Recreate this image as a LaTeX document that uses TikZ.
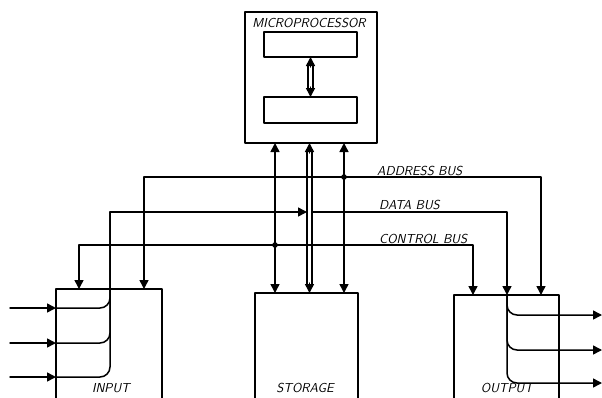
\documentclass[tikz,border=0pt]{standalone}
\usetikzlibrary{arrows.meta}

\begin{document}
\begin{tikzpicture}[line cap=round,line join=round,x=1pt,y=-1pt,
    bus/.style={line width=1.5pt},
    tip/.style={bus,-{Triangle[length=9pt,width=9pt]}},
    tips/.style={bus,{Triangle[length=9pt,width=9pt]}-{Triangle[length=9pt,width=9pt]}},
    box/.style={draw,line width=1.8pt,inner sep=0pt,outer sep=0pt,anchor=north west},
    lbl/.style={font=\fontsize{13}{15}\selectfont\sffamily\itshape,inner sep=1pt}]
  \useasboundingbox (0,0) rectangle (602,397);
  \clip (0,0) rectangle (602,397);

  % Blocks
  \node[box,minimum width=132,minimum height=131] (mp) at (245,12) {};
  \node[box,line width=1.4pt,minimum width=93,minimum height=25] (reg1) at (264,32) {};
  \node[box,line width=1.4pt,minimum width=93,minimum height=26] (reg2) at (264,97) {};
  \node[box,minimum width=106,minimum height=130] (input) at (56,289) {};
  \node[box,minimum width=103,minimum height=130] (storage) at (255,293) {};
  \node[box,minimum width=105,minimum height=130] (output) at (454,295) {};
  \node[lbl] (mplbl) at (309,23) {MICROPROCESSOR};
  \node[lbl] (inlbl) at (111,388) {INPUT};
  \node[lbl] (stlbl) at (305,388) {STORAGE};
  \node[lbl] (outlbl) at (507,388) {OUTPUT};

  % Internal path
  \draw[bus] ([xshift=-2.5pt,yshift=-7pt]reg1.south) -- ([xshift=-2.5pt,yshift=7pt]reg2.north);
  \draw[bus] ([xshift=2.5pt,yshift=-7pt]reg1.south) -- ([xshift=2.5pt,yshift=7pt]reg2.north);
  \draw[tip] ([yshift=-10pt]reg1.south) -- (reg1.south);
  \draw[tip] ([yshift=10pt]reg2.north) -- (reg2.north);

  % Bus points
  \coordinate (aa) at (344,177);
  \coordinate (db) at (309.5,212);
  \coordinate (ca) at (275,245);
  \coordinate (al) at (144,177);
  \coordinate (ar) at (541,177);
  \coordinate (dl) at (110,212);
  \coordinate (dr) at (507,212);
  \coordinate (cl) at (79,245);
  \coordinate (cr) at (473,245);

  % Vertical buses
  \draw[tips] (mp.south -| ca) -- (storage.north -| ca);
  \draw[tips] (mp.south -| aa) -- (storage.north -| aa);
  \draw[bus] ([xshift=-2.5pt,yshift=-7pt]mp.south -| db) -- ([xshift=-2.5pt,yshift=7pt]storage.north -| db);
  \draw[bus] ([xshift=2.5pt,yshift=-7pt]mp.south -| db) -- ([xshift=2.5pt,yshift=7pt]storage.north -| db);
  \draw[tip] ([yshift=-10pt]mp.south -| db) -- (mp.south -| db);
  \draw[tip] ([yshift=10pt]storage.north -| db) -- (storage.north -| db);

  % Address bus
  \draw[tip] (aa) -| (al |- input.north);
  \draw[tip] (aa) -| (ar |- output.north);
  \fill (aa) circle (2.8pt);
  \node[lbl,anchor=south west] (albl) at (376,177) {ADDRESS BUS};

  % Data bus
  \draw[tip] (dl) -- ([xshift=-2.5pt]db);
  \draw[tip] ([xshift=2.5pt]db) -| (dr |- output.north);
  \node[lbl,anchor=south west] (dlbl) at (378,211) {DATA BUS};

  % Control bus
  \draw[tip] (ca) -| (cl |- input.north);
  \draw[tip] (ca) -| (cr |- output.north);
  \fill (ca) circle (2.8pt);
  \node[lbl,anchor=south west] (clbl) at (378,245) {CONTROL BUS};

  % Input lines
  \foreach \n/\y in {1/308,2/343,3/377}{
    \coordinate (in\n) at (input.west |- 0,\y);
    \coordinate (src\n) at (10,\y);
    \draw[tip] (src\n) -- (in\n);
    \draw[bus,rounded corners=10pt] (dl) |- (in\n);
  }

  % Output lines
  \foreach \n/\y in {1/315,2/350,3/383}{
    \coordinate (out\n) at (602,\y);
    \draw[tip,rounded corners=10pt] (dr |- output.north) |- (out\n);
  }
\end{tikzpicture}
\end{document}
